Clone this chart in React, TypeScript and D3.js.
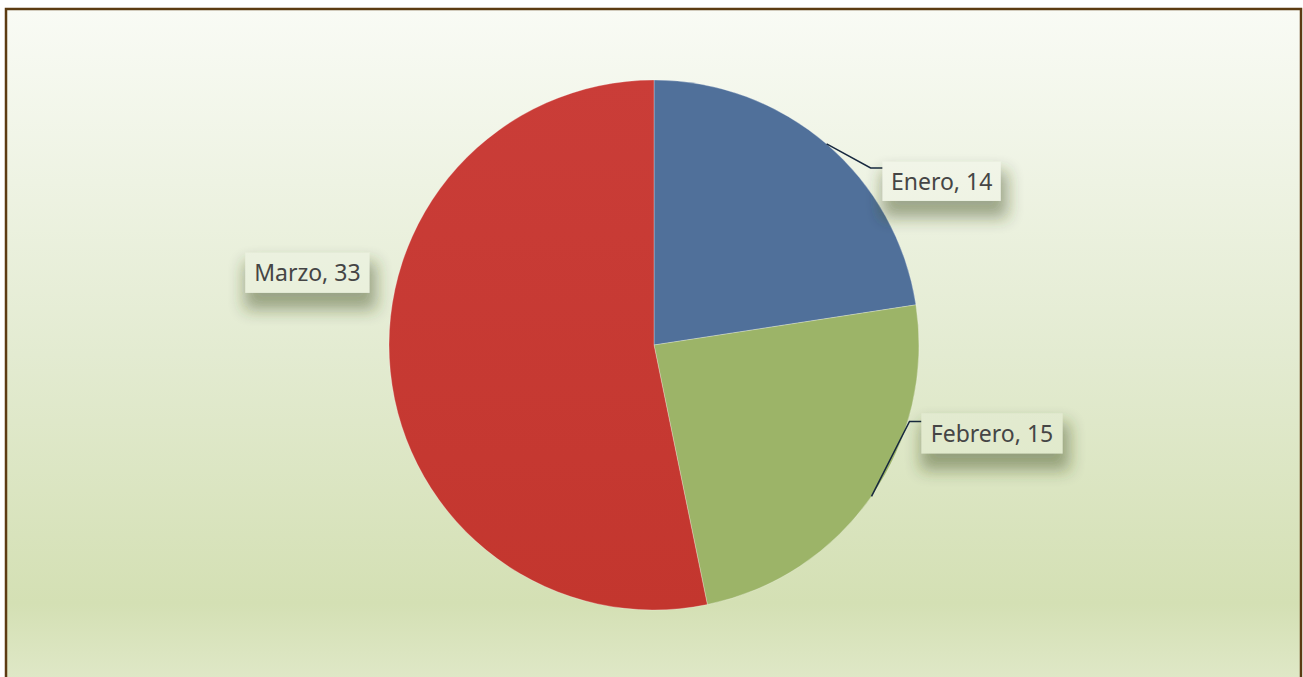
import * as d3 from 'd3';
import React from 'react';

const months = ['Enero', 'Febrero', 'Marzo'];
const values = [14, 15, 33];
const sliceColors = ['#50709a', '#9cb468', '#c73b35'];

const W = 1303;
const H = 677;
const cx = 654;
const cy = 345;
const radius = 265;

// label box placement relative to the point on the slice edge
const labelLayout = [
    { dx: 56, dy: 18, w: 118, h: 39, elbow: [44, 24], leader: true },
    { dx: 50, dy: -83, w: 141, h: 40, elbow: [38, -75], leader: true },
    { dx: -145, dy: -119, w: 124, h: 40, elbow: null, leader: false }
];

const App = () => {
    const pie = d3.pie<number>().sort(null).value(d => d);
    const arcs = pie(values);
    const arc = d3.arc<d3.PieArcDatum<number>>().innerRadius(0).outerRadius(radius);

    return (
        <svg width={W} height={H} style={{ position: 'fixed', left: 0, top: 0 }}>
            <defs>
                <linearGradient id="bg" gradientUnits="userSpaceOnUse" x1="0" y1="9" x2="0" y2="700">
                    <stop offset="0" stopColor="#f9fbf5" />
                    <stop offset="0.5" stopColor="#e3ebd1" />
                    <stop offset="0.86" stopColor="#d4e0b4" />
                    <stop offset="1" stopColor="#e2eacc" />
                </linearGradient>
                <linearGradient id="red" x1="0" y1="0" x2="0" y2="1">
                    <stop offset="0" stopColor="#ca3d38" />
                    <stop offset="1" stopColor="#c3362e" />
                </linearGradient>
                <filter id="shadow" x="-40%" y="-60%" width="190%" height="280%">
                    <feMorphology in="SourceAlpha" operator="dilate" radius="4" />
                    <feGaussianBlur stdDeviation="8" />
                    <feOffset dx="3" dy="13" result="b" />
                    <feFlood floodColor="#3c4a20" />
                    <feComposite in2="b" operator="in" />
                    <feComponentTransfer>
                        <feFuncA type="linear" slope="0.45" />
                    </feComponentTransfer>
                    <feMerge>
                        <feMergeNode />
                        <feMergeNode in="SourceGraphic" />
                    </feMerge>
                </filter>
            </defs>
            <rect x={6} y={9} width={1295} height={700} fill="url(#bg)" stroke="#5c3b12" strokeWidth={2.5} />
            <g transform={`translate(${cx},${cy})`}>
                {arcs.map((a, i) => (
                    <path
                        key={months[i]}
                        d={arc(a) || ''}
                        fill={i === 2 ? 'url(#red)' : sliceColors[i]}
                        stroke="rgba(255,255,255,0.35)"
                        strokeWidth={0.8}
                    />
                ))}
            </g>
            {arcs.map((a, i) => {
                const mid = (a.startAngle + a.endAngle) / 2;
                const px = cx + radius * Math.sin(mid);
                const py = cy - radius * Math.cos(mid);
                const l = labelLayout[i];
                const bx = px + l.dx;
                const by = py + l.dy;
                return (
                    <g key={months[i]}>
                        {l.leader && l.elbow && (
                            <polyline
                                points={`${px},${py} ${px + l.elbow[0]},${py + l.elbow[1]} ${bx},${py + l.elbow[1]}`}
                                fill="none"
                                stroke="#17283f"
                                strokeWidth={1.5}
                            />
                        )}
                        <rect x={bx} y={by} width={l.w} height={l.h} fill="url(#bg)" filter="url(#shadow)" />
                        <rect x={bx} y={by} width={l.w} height={l.h} fill="rgba(255,255,255,0.12)" />
                        <text
                            x={bx + l.w / 2}
                            y={by + l.h / 2}
                            dy="0.37em"
                            textAnchor="middle"
                            fontFamily="'Noto Sans', sans-serif"
                            fontSize={23}
                            fill="#454545"
                        >
                            {`${months[i]}, ${values[i]}`}
                        </text>
                    </g>
                );
            })}
        </svg>
    );
};

export default App;
